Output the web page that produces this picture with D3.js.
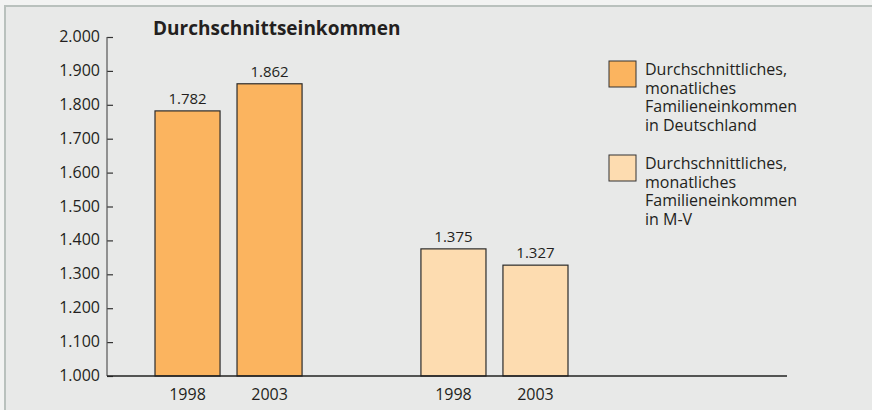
<!DOCTYPE html>
<html>
<head>
<meta charset="utf-8">
<script src="https://cdn.jsdelivr.net/npm/d3@7"></script>
<style>
  body { margin: 0; background: #f2f3f2; }
  text { font-family: "Open Sans", Lato, sans-serif; fill: #231f20; }
</style>
</head>
<body>
<div id="chart"></div>
<script>
var title = "Durchschnittseinkommen"
var groups = ["Deutschland", "M-V"]
var years = ["1998", "2003"]
var valuesDE = [1782, 1862]
var valuesMV = [1375, 1327]
var valueLabels = ["1.782", "1.862", "1.375", "1.327"]
var yTicks = [1000, 1100, 1200, 1300, 1400, 1500, 1600, 1700, 1800, 1900, 2000]
var legendLabels = [
  ["Durchschnittliches,", "monatliches", "Familieneinkommen", "in Deutschland"],
  ["Durchschnittliches,", "monatliches", "Familieneinkommen", "in M-V"]
]
var colors = ["#fbb45f", "#fddcb0"]

var chartWidth = 872
var chartHeight = 410

var svg = d3.select("#chart")
  .append("svg")
  .attr("width", chartWidth)
  .attr("height", chartHeight)

// panel with frame on top and left
svg.append("rect")
  .attr("x", 4).attr("y", 5)
  .attr("width", chartWidth - 4).attr("height", chartHeight - 5)
  .style("fill", "#e8e9e8")
svg.append("path")
  .attr("d", "M5,410V6H872")
  .style("fill", "none")
  .style("stroke", "#b9c1bd")
  .style("stroke-width", 2)

var y = d3.scaleLinear().domain([1000, 2000]).range([376, 37])

// bars: each group gets its own band, each year a sub band
var data = []
groups.forEach(function(g, gi) {
  var vals = gi == 0 ? valuesDE : valuesMV
  years.forEach(function(yr, yi) {
    data.push({ group: g, year: yr, value: vals[yi], label: valueLabels[gi * 2 + yi], gi: gi })
  })
})

var x0 = d3.scaleBand().domain(groups).range([155, 568]).paddingInner(0.447)
var x1 = d3.scaleBand().domain(years).range([0, x0.bandwidth()]).paddingInner(0.207)

var bars = svg.selectAll(".bar").data(data).enter().append("g")
  .attr("transform", function(d) { return "translate(" + (x0(d.group) + x1(d.year)) + ",0)" })

bars.append("rect")
  .attr("x", 0)
  .attr("y", function(d) { return y(d.value) })
  .attr("width", x1.bandwidth())
  .attr("height", function(d) { return y(1000) - y(d.value) })
  .style("fill", function(d) { return colors[d.gi] })
  .style("stroke", "#2b2b2b")
  .style("stroke-width", 1.2)

bars.append("text")
  .attr("x", x1.bandwidth() / 2)
  .attr("y", function(d) { return y(d.value) - 7 })
  .attr("text-anchor", "middle")
  .style("font-size", "15px")
  .text(function(d) { return d.label })

bars.append("text")
  .attr("x", x1.bandwidth() / 2)
  .attr("y", 400)
  .attr("text-anchor", "middle")
  .style("font-size", "16px")
  .text(function(d) { return d.year })

// y axis, ticks pointing inwards
var yAxis = d3.axisRight(y)
  .tickValues(yTicks)
  .tickSize(6)
  .tickFormat("")
var yg = svg.append("g")
  .attr("transform", "translate(107,0)")
  .call(yAxis)
yg.select(".domain").remove()
yg.selectAll(".tick line").style("stroke", "#333").style("stroke-width", 1.2)

svg.append("line")
  .attr("x1", 107).attr("x2", 107)
  .attr("y1", y(2000)).attr("y2", y(1000))
  .style("stroke", "#555").style("stroke-width", 1.2)

svg.selectAll(".ylab").data(yTicks).enter().append("text")
  .attr("x", 100)
  .attr("y", function(d) { return y(d) + 5 })
  .attr("text-anchor", "end")
  .style("font-size", "16px")
  .text(function(d) { return d3.format(",")(d).replace(",", ".") })

// x axis baseline
svg.append("line")
  .attr("x1", 107).attr("x2", 787)
  .attr("y1", y(1000)).attr("y2", y(1000))
  .style("stroke", "#222").style("stroke-width", 1.5)

svg.append("text")
  .attr("x", 153).attr("y", 35)
  .style("font-size", "19px")
  .style("font-weight", "bold")
  .text(title)

// legend
var legend = svg.selectAll(".legend").data(legendLabels).enter().append("g")
  .attr("transform", function(d, i) { return "translate(609," + (61 + i * 94) + ")" })

legend.append("rect")
  .attr("width", 27).attr("height", 26)
  .style("fill", function(d, i) { return colors[i] })
  .style("stroke", "#333")
  .style("stroke-width", 1)

legend.append("text")
  .attr("x", 36)
  .attr("y", 14)
  .style("font-size", "16px")
  .selectAll("tspan").data(function(d) { return d }).enter().append("tspan")
  .attr("x", 36)
  .attr("dy", function(d, i) { return i == 0 ? 0 : 18.5 })
  .text(function(d) { return d })
</script>
</body>
</html>
